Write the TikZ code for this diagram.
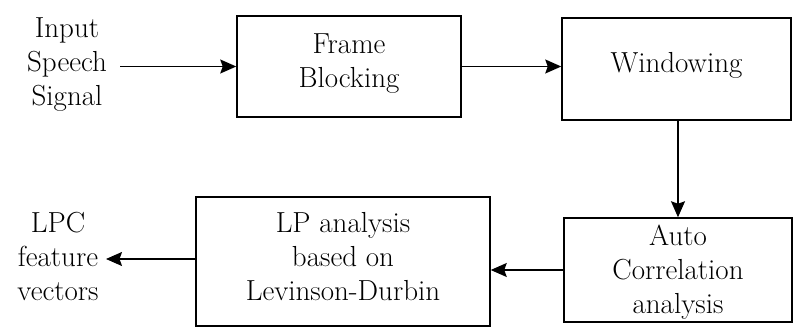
\documentclass[tikz,border=0pt]{standalone}
\usetikzlibrary{arrows.meta}
\begin{document}
\begin{tikzpicture}[x=1pt,y=-1pt,
  every node/.style={font=\fontsize{29}{34}\selectfont, align=center, inner sep=0pt},
  blockbox/.style={draw, line width=1.5pt},
  flowarrow/.style={line width=1.5pt, -{Stealth[length=16pt,width=14pt,inset=2.5pt]}}]
\useasboundingbox (0,0) rectangle (795,334);
\fill[white] (0,0) rectangle (795,334);
\node[blockbox, minimum width=224pt, minimum height=101pt] (fb) at (349,66.5) {};
\node[blockbox, minimum width=229pt, minimum height=102pt] (win) at (676.5,69) {};
\node[blockbox, minimum width=228pt, minimum height=104pt] (ac) at (678,270) {};
\node[blockbox, minimum width=294pt, minimum height=129pt] (lp) at (343,261.5) {};
\node (fbt) at ([yshift=3pt]fb.center) {Frame\\Blocking};
\node (wint) at ([yshift=4pt]win.center) {Windowing};
\node (act) at ([yshift=-2pt]ac.center) {Auto\\Correlation\\analysis};
\node (lpt) at ([yshift=5pt]lp.center) {LP analysis\\based on\\Levinson-Durbin};
\node (in) at (67,64.5) {Input\\Speech\\Signal};
\node (lpc) at (58,256) {LPC\\feature\\vectors};
\coordinate (inend) at (120,66.5);
\coordinate (lpcend) at (106,259);
\draw[flowarrow] (inend) -- (fb.west);
\draw[flowarrow] (fb.east) -- (fb.east -| win.west);
\draw[flowarrow] (ac.north |- win.south) -- (ac.north);
\draw[flowarrow] (ac.west) -- (ac.west -| lp.east);
\draw[flowarrow] (lp.west |- lpcend) -- (lpcend);
\end{tikzpicture}
\end{document}
